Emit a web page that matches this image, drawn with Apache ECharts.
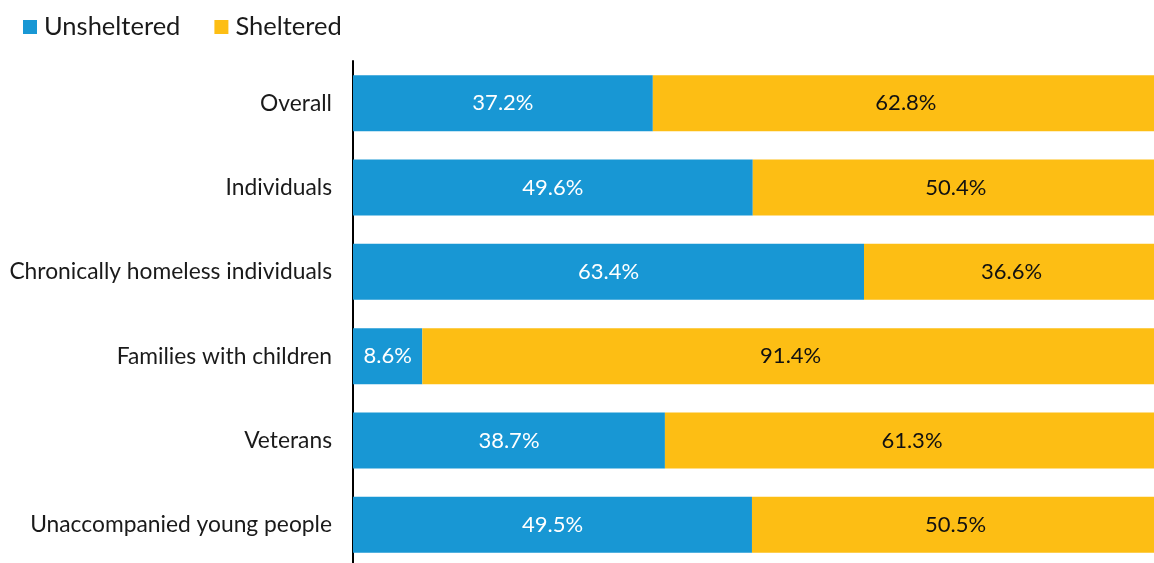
<!DOCTYPE html>
<html>
<head>
<meta charset="utf-8">
<script src="https://cdn.jsdelivr.net/npm/echarts@6/dist/echarts.min.js"></script>
<style>
  html, body { margin: 0; padding: 0; background: #fff; }
  #chart { width: 1154px; height: 563px; }
</style>
</head>
<body>
<div id="chart"></div>
<script>
const categories = [
  'Overall',
  'Individuals',
  'Chronically homeless individuals',
  'Families with children',
  'Veterans',
  'Unaccompanied young people'
];
const unsheltered = [37.2, 49.6, 63.4, 8.6, 38.7, 49.5];
const sheltered = [62.8, 50.4, 36.6, 91.4, 61.3, 50.5];

const chart = echarts.init(document.getElementById('chart'));
chart.setOption({
  animation: false,
  textStyle: { fontFamily: 'Lato' },
  legend: {
    left: 18,
    top: 9,
    itemWidth: 14,
    itemHeight: 14,
    itemGap: 34,
    icon: 'rect',
    textStyle: { fontSize: 25.5, color: '#1a1a1a', fontFamily: 'Lato', padding: [0, 0, 0, 2] },
    data: ['Unsheltered', 'Sheltered']
  },
  // the bars run a few px past the right edge in the original
  grid: {
    left: 353, right: -5, top: 61, height: 506,
    containLabel: false,
    outerBoundsMode: 'none'
  },
  xAxis: {
    type: 'value',
    min: 0,
    max: 100,
    show: false
  },
  yAxis: {
    type: 'category',
    data: categories,
    inverse: true,
    axisLine: { show: true, lineStyle: { color: '#000', width: 2 } },
    axisTick: { show: false },
    axisLabel: { fontSize: 22.8, color: '#1a1a1a', margin: 21, fontFamily: 'Lato' }
  },
  series: [
    {
      name: 'Unsheltered',
      type: 'bar',
      stack: 'total',
      barWidth: 56,
      data: unsheltered,
      itemStyle: { color: '#1897d4' },
      label: {
        show: true,
        position: 'inside',
        color: '#fff',
        fontSize: 22,
        fontFamily: 'Lato',
        formatter: p => p.value.toFixed(1) + '%'
      }
    },
    {
      name: 'Sheltered',
      type: 'bar',
      stack: 'total',
      barWidth: 56,
      data: sheltered,
      itemStyle: { color: '#fdbe14' },
      label: {
        show: true,
        position: 'inside',
        color: '#111',
        fontSize: 22,
        fontFamily: 'Lato',
        formatter: p => p.value.toFixed(1) + '%'
      }
    }
  ]
});
</script>
</body>
</html>
